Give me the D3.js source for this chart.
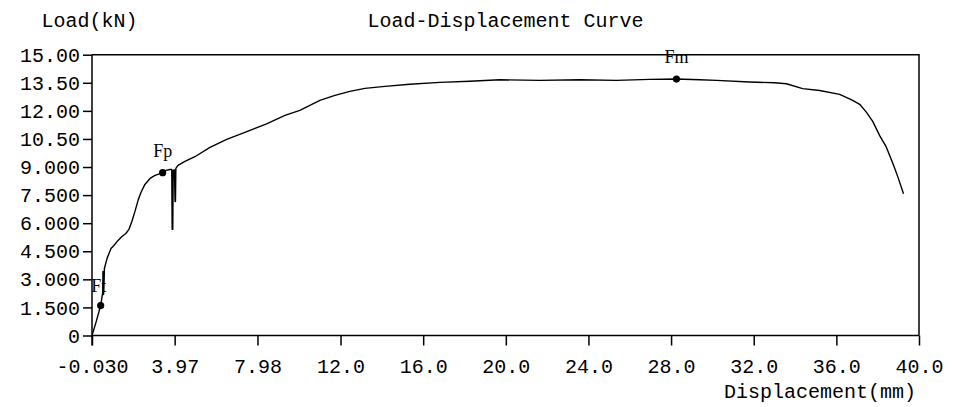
<!DOCTYPE html>
<html>
<head>
<meta charset="utf-8">
<script src="https://cdn.jsdelivr.net/npm/d3@7"></script>
<style>
  html, body { margin: 0; padding: 0; background: #fff; }
  svg { display: block; }
  .mono { font-family: "Liberation Mono", "DejaVu Sans Mono", monospace; font-size: 20px; fill: #000; }
  .mark { font-family: "Liberation Serif", "DejaVu Serif", serif; font-size: 18px; fill: #000; }
</style>
</head>
<body>
<svg id="chart" width="964" height="407"></svg>
<script>
// ---- data ----
const title = "Load-Displacement Curve";
const yTitle = "Load(kN)";
const xTitle = "Displacement(mm)";

const xTickValues = [-0.03, 3.97, 7.98, 12.0, 16.0, 20.0, 24.0, 28.0, 32.0, 36.0, 40.0];
const xTickLabels = ["-0.030", "3.97", "7.98", "12.0", "16.0", "20.0", "24.0", "28.0", "32.0", "36.0", "40.0"];
const yTickValues = [0, 1.5, 3.0, 4.5, 6.0, 7.5, 9.0, 10.5, 12.0, 13.5, 15.0];
const yTickLabels = ["0", "1.500", "3.000", "4.500", "6.000", "7.500", "9.000", "10.50", "12.00", "13.50", "15.00"];

// displacement (mm)
const displacement = [
  -0.03, 0.16, 0.39, 0.48, 0.49, 0.50, 0.53, 0.56, 0.57, 0.70, 0.89, 1.03, 1.23, 1.42, 1.61, 1.76,
  1.90, 2.05, 2.20, 2.34, 2.53, 2.78, 3.02, 3.16, 3.39, 3.55, 3.74, 3.83, 3.85, 3.88, 3.90, 3.96,
  3.99, 4.01, 4.03, 4.13, 4.47, 4.95, 5.68, 6.49, 7.37, 8.42, 9.31, 10.03, 11.00, 11.73, 12.45,
  13.18, 14.15, 15.35, 16.81, 18.26, 19.71, 21.64, 23.58, 25.35, 26.97, 28.26, 29.39, 30.19,
  31.80, 33.01, 33.58, 34.37, 35.19, 36.16, 36.79, 37.13, 37.45, 37.76, 38.09, 38.42, 38.58,
  38.77, 38.98, 39.25
];
// load (kN)
const load = [
  0.00, 0.69, 1.60, 2.24, 2.30, 3.42, 2.19, 3.05, 3.58, 4.12, 4.65, 4.81, 5.08, 5.29, 5.45, 5.67,
  6.09, 6.63, 7.22, 7.64, 8.07, 8.39, 8.55, 8.61, 8.70, 8.82, 8.87, 8.87, 5.67, 5.67, 8.82, 8.85,
  7.16, 7.16, 8.93, 9.09, 9.30, 9.55, 10.05, 10.48, 10.85, 11.31, 11.76, 12.03, 12.56, 12.83, 13.04,
  13.20, 13.31, 13.42, 13.52, 13.58, 13.66, 13.63, 13.66, 13.63, 13.68, 13.70, 13.66, 13.63,
  13.54, 13.50, 13.45, 13.19, 13.09, 12.88, 12.56, 12.35, 11.93, 11.44, 10.69, 10.06, 9.62,
  9.09, 8.46, 7.57
];

const markerNames = ["Ft", "Fp", "Fm"];
const markerX = [0.39, 3.39, 28.26];
const markerY = [1.60, 8.70, 13.70];

// ---- layout ----
const svg = d3.select("#chart");
const mLeft = 92, mRight = 919, mTop = 54.7, mBottom = 335.5;

const x = d3.scaleLinear().domain([-0.03, 40.0]).range([mLeft, mRight]);
const y = d3.scaleLinear().domain([0, 15]).range([mBottom, mTop]);

// frame (top and right)
svg.append("path")
  .attr("d", `M${mLeft},${mTop}H${mRight}V${mBottom}`)
  .attr("fill", "none").attr("stroke", "#000").attr("stroke-width", 1.5);

// x axis
const gx = svg.append("g").attr("transform", `translate(0,${mBottom})`)
  .call(d3.axisBottom(x).tickValues(xTickValues).tickSize(10)
    .tickFormat((d, i) => xTickLabels[i]));
gx.select(".domain").attr("stroke-width", 1.5).attr("d", `M${mLeft},0H${mRight}`);
gx.selectAll(".tick line").attr("stroke-width", 1.5);
gx.selectAll(".tick text").attr("class", "mono").attr("dy", null).attr("y", 37.5);
gx.attr("font-family", null).attr("font-size", null);

// y axis
const gy = svg.append("g").attr("transform", `translate(${mLeft},0)`)
  .call(d3.axisLeft(y).tickValues(yTickValues).tickSize(9).tickPadding(3)
    .tickFormat((d, i) => yTickLabels[i]));
gy.select(".domain").attr("stroke-width", 1.5).attr("d", `M0,${mTop}V${mBottom + 10}`);
gy.selectAll(".tick line").attr("stroke-width", 1.5);
gy.selectAll(".tick text").attr("class", "mono").attr("dy", "0.33em");
gy.attr("font-family", null).attr("font-size", null);

// titles
svg.append("text").attr("class", "mono").attr("x", 41.5).attr("y", 27).text(yTitle);
svg.append("text").attr("class", "mono").attr("x", (mLeft + mRight) / 2).attr("y", 27)
  .attr("text-anchor", "middle").text(title);
svg.append("text").attr("class", "mono").attr("x", 916).attr("y", 398)
  .attr("text-anchor", "end").text(xTitle);

// curve
const pts = displacement.map((d, i) => [d, load[i]]);
svg.append("path")
  .datum(pts)
  .attr("fill", "none").attr("stroke", "#000").attr("stroke-width", 1.4)
  .attr("stroke-linejoin", "round")
  .attr("d", d3.line().x(d => x(d[0])).y(d => y(d[1])));

// markers
const markers = markerNames.map((n, i) => ({ name: n, x: markerX[i], y: markerY[i] }));
svg.selectAll("circle.mk").data(markers).enter().append("circle")
  .attr("class", "mk")
  .attr("cx", d => x(d.x)).attr("cy", d => y(d.y)).attr("r", 3.6).attr("fill", "#000");
svg.selectAll("text.mark").data(markers).enter().append("text")
  .attr("class", "mark")
  .attr("x", d => x(d.x) + (d.name === "Ft" ? -2 : 0))
  .attr("y", d => y(d.y) - (d.name === "Ft" ? 13.5 : 15.8))
  .attr("text-anchor", "middle")
  .text(d => d.name);
</script>
</body>
</html>
